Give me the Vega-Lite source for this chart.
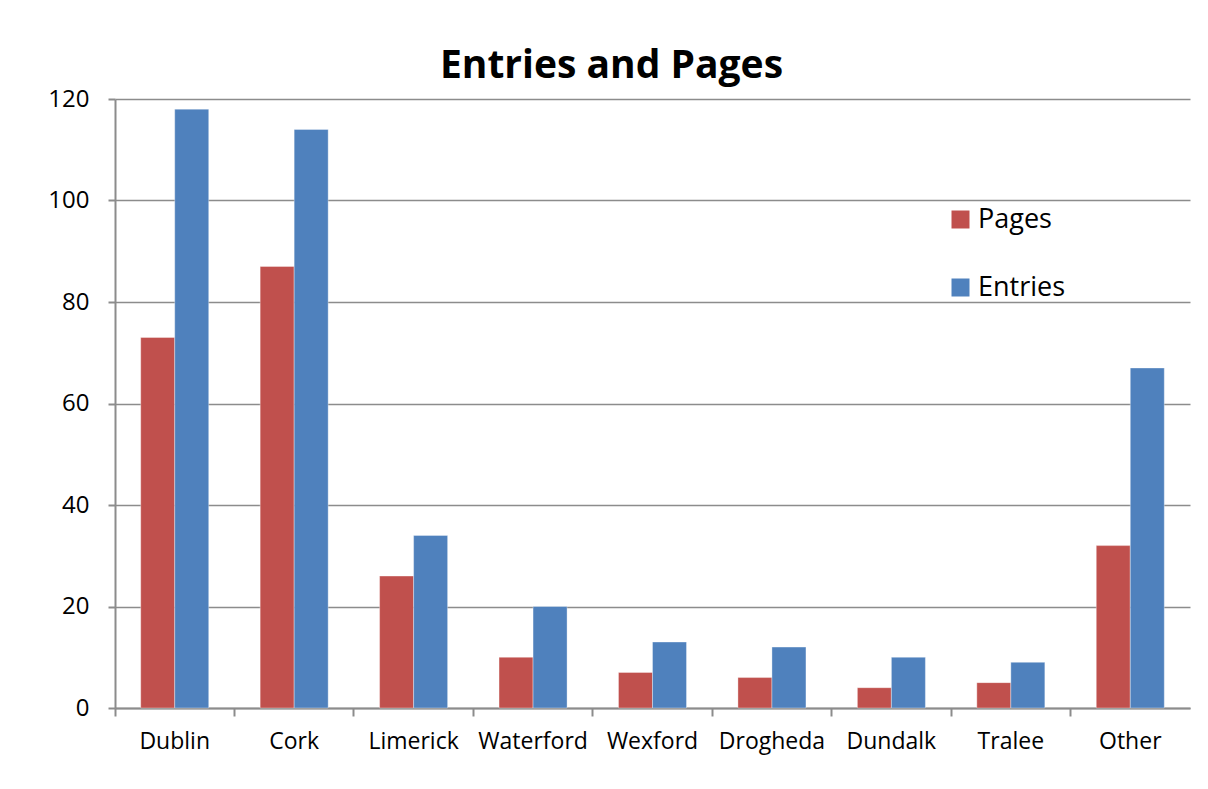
{
  "$schema": "https://vega.github.io/schema/vega-lite/v6.json",
  "width": 1075,
  "height": 609,
  "autosize": {"type": "none"},
  "padding": {"left": 115, "top": 99, "right": 18, "bottom": 81},
  "background": "white",
  "title": {
    "text": "Entries and Pages",
    "font": "Open Sans",
    "fontSize": 39,
    "fontWeight": "bold",
    "color": "#000000",
    "anchor": "middle",
    "frame": "group",
    "dx": -41,
    "offset": 1
  },
  "data": {
    "values": [
      {"city": "Dublin", "series": "Pages", "value": 73},
      {"city": "Dublin", "series": "Entries", "value": 118},
      {"city": "Cork", "series": "Pages", "value": 87},
      {"city": "Cork", "series": "Entries", "value": 114},
      {"city": "Limerick", "series": "Pages", "value": 26},
      {"city": "Limerick", "series": "Entries", "value": 34},
      {"city": "Waterford", "series": "Pages", "value": 10},
      {"city": "Waterford", "series": "Entries", "value": 20},
      {"city": "Wexford", "series": "Pages", "value": 7},
      {"city": "Wexford", "series": "Entries", "value": 13},
      {"city": "Drogheda", "series": "Pages", "value": 6},
      {"city": "Drogheda", "series": "Entries", "value": 12},
      {"city": "Dundalk", "series": "Pages", "value": 4},
      {"city": "Dundalk", "series": "Entries", "value": 10},
      {"city": "Tralee", "series": "Pages", "value": 5},
      {"city": "Tralee", "series": "Entries", "value": 9},
      {"city": "Other", "series": "Pages", "value": 32},
      {"city": "Other", "series": "Entries", "value": 67}
    ]
  },
  "mark": {"type": "bar", "stroke": "white", "strokeOpacity": 0.35, "strokeWidth": 1},
  "encoding": {
    "x": {
      "field": "city",
      "type": "nominal",
      "sort": null,
      "title": null,
      "scale": {"paddingInner": 0, "paddingOuter": 0},
      "axis": {
        "labelAngle": 0,
        "bandPosition": 0,
        "labelAlign": "center",
        "labelFont": "Open Sans",
        "labelFontSize": 23,
        "labelColor": "#000000",
        "labelPadding": 14,
        "tickSize": 8,
        "tickColor": "#8c8c8c",
        "tickWidth": 2,
        "domainColor": "#8c8c8c",
        "domainWidth": 2,
        "grid": false
      }
    },
    "xOffset": {
      "field": "series",
      "type": "nominal",
      "sort": ["Pages", "Entries"],
      "scale": {"paddingInner": 0, "paddingOuter": 0.756}
    },
    "y": {
      "field": "value",
      "type": "quantitative",
      "title": null,
      "scale": {"domain": [0, 120]},
      "axis": {
        "values": [0, 20, 40, 60, 80, 100, 120],
        "labelFont": "Open Sans",
        "labelFontSize": 24,
        "labelColor": "#000000",
        "labelPadding": 19,
        "tickSize": 7,
        "tickColor": "#8c8c8c",
        "tickWidth": 2,
        "domainColor": "#8c8c8c",
        "domainWidth": 2,
        "gridColor": "#8c8c8c",
        "gridWidth": 1.5
      }
    },
    "color": {
      "field": "series",
      "type": "nominal",
      "sort": ["Pages", "Entries"],
      "scale": {"domain": ["Pages", "Entries"], "range": ["#C0504D", "#4F81BD"]},
      "legend": {
        "title": null,
        "orient": "none",
        "legendX": 832,
        "legendY": 107,
        "symbolType": "square",
        "symbolSize": 324,
        "symbolStrokeWidth": 0,
        "symbolOpacity": 1,
        "labelFont": "Open Sans",
        "labelFontSize": 27,
        "labelColor": "#000000",
        "labelOffset": 4,
        "rowPadding": 40
      }
    }
  },
  "config": {"view": {"stroke": null}}
}
